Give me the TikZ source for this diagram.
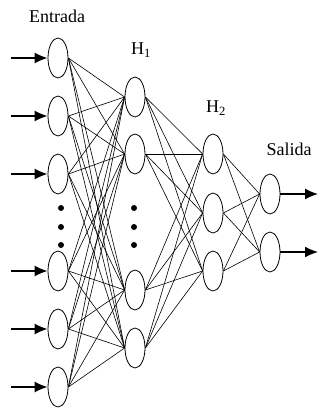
\documentclass[tikz,border=0pt]{standalone}
\usepackage{fontspec}
\setmainfont{Liberation Serif}
\usetikzlibrary{shapes.geometric,arrows.meta}
\begin{document}
\begin{tikzpicture}[x=1pt,y=-1pt,
    neuron/.style={draw,ellipse,minimum width=20pt,minimum height=40pt,inner sep=0pt,line width=0.8pt},
    link/.style={line width=0.6pt},
    flow/.style={line width=1.5pt,-{Latex[length=13pt,width=11pt]}},
    gap/.style={circle,fill,inner sep=0pt,minimum size=6pt},
    title/.style={font=\fontsize{18}{20}\selectfont}]
  \useasboundingbox (0,0) rectangle (320,410);
  % layers
  \foreach \n/\y in {1/58,2/116,3/174,4/271,5/329,6/387}{
    \node[neuron] (e\n) at (58,\y) {};
    \coordinate (in\n) at (11,\y);
  }
  \foreach \n/\y in {1/97,2/154,3/290,4/348}
    \node[neuron] (a\n) at (135,\y) {};
  \foreach \n/\y in {1/154,2/213,3/271}
    \node[neuron] (b\n) at (213,\y) {};
  \foreach \n/\y in {1/194,2/252}{
    \node[neuron] (s\n) at (270,\y) {};
    \coordinate (out\n) at (318,\y);
  }
  % dots
  \foreach \y [count=\k] in {208,227,245}{
    \node[gap] (p\k) at (61,\y) {};
    \node[gap] (q\k) at (134,\y) {};
  }
  % labels
  \node[title] (entrada) at (57,16) {Entrada};
  \node[title] (h1) at (141,50) {H\textsubscript{1}};
  \node[title] (h2) at (216,108) {H\textsubscript{2}};
  \node[title] (salida) at (289,149) {Salida};
  % connections
  \foreach \i in {1,...,6}
    \foreach \j in {1,...,4}
      \draw[link] (e\i.east) -- (a\j.west);
  \foreach \i in {1,...,4}
    \foreach \j in {1,...,3}
      \draw[link] (a\i.east) -- (b\j.west);
  \foreach \i in {1,...,3}
    \foreach \j in {1,2}
      \draw[link] (b\i.east) -- (s\j.west);
  \foreach \n in {1,...,6}
    \draw[flow] (in\n) -- (e\n.west);
  \foreach \n in {1,2}
    \draw[flow] (s\n.east) -- (out\n);
\end{tikzpicture}
\end{document}
